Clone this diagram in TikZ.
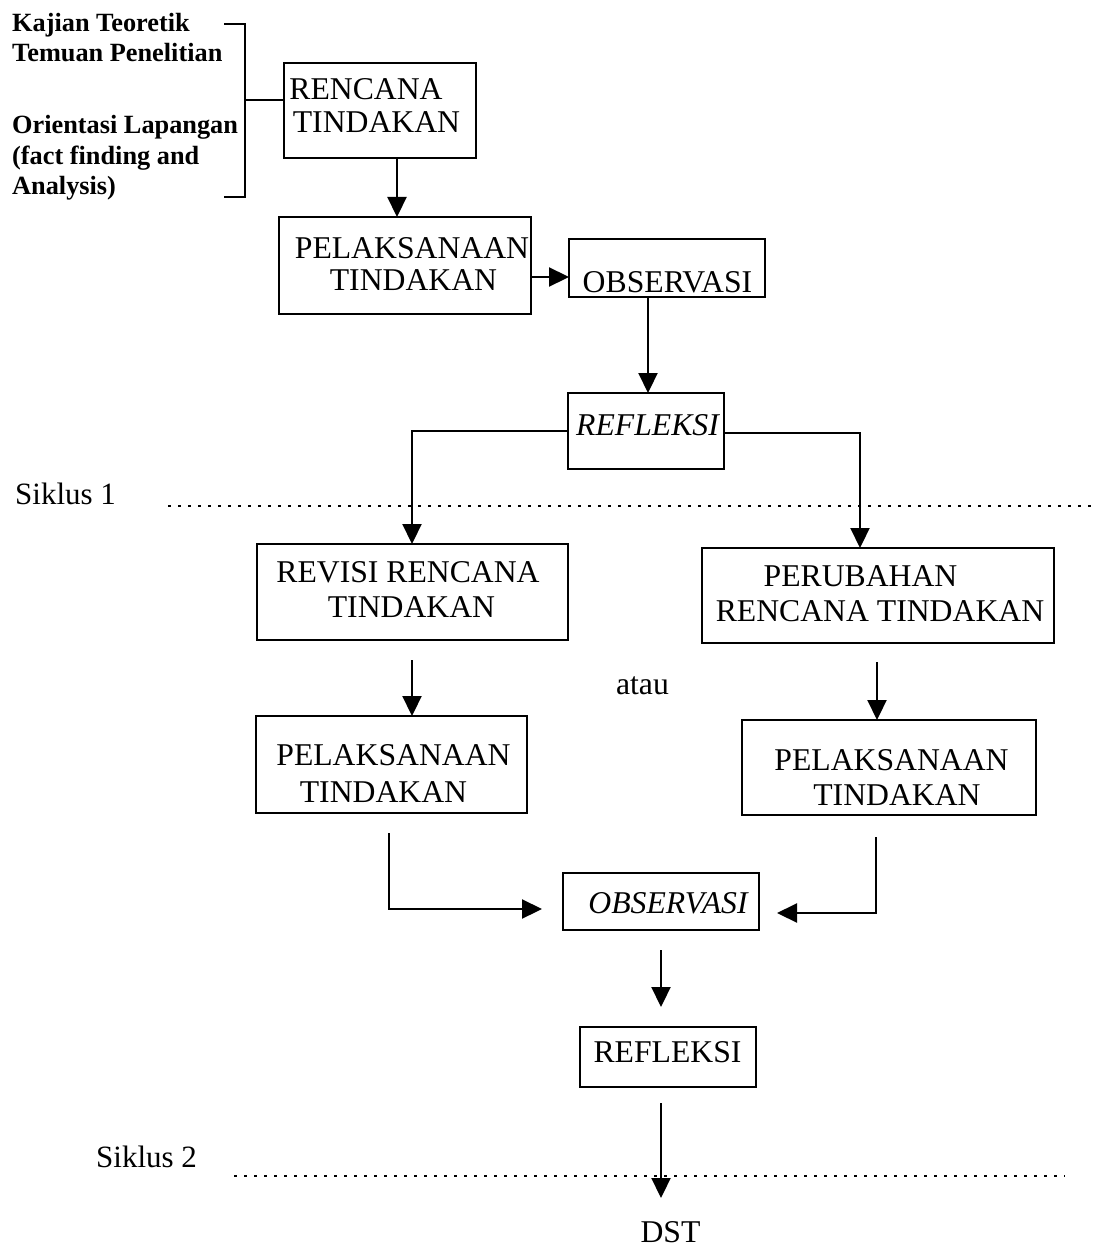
\documentclass[tikz,border=0pt]{standalone}
\usepackage{fontspec}
\setmainfont{Liberation Serif}
\usetikzlibrary{arrows.meta,calc}
\begin{document}
\begin{tikzpicture}[x=1pt,y=-1pt,
  box/.style={draw,line width=2.4pt,inner sep=0pt,outer sep=0pt},
  txt/.style={inner sep=0pt,anchor=base,font=\fontsize{31.7}{37}\selectfont},
  itxt/.style={txt,font=\fontsize{31.7}{37}\selectfont\itshape},
  lbl/.style={inner sep=0pt,anchor=base west,font=\fontsize{26.3}{30}\selectfont\bfseries},
  side/.style={inner sep=0pt,anchor=base west,font=\fontsize{31}{37}\selectfont},
  conn/.style={line width=2.2pt},
  arr/.style={conn,-{Triangle[length=20pt,width=19pt]}},
  dots/.style={line width=2pt,dash pattern=on 2.5pt off 7.5pt}]
\useasboundingbox (0,0) rectangle (1095,1252);

% boxes
\node[box,minimum width=192pt,minimum height=95pt] (ren) at (380,110.5) {};
\node[box,minimum width=252pt,minimum height=97pt] (pel1) at (405,265.5) {};
\node[box,minimum width=196pt,minimum height=58pt] (obs1) at (667,268) {};
\node[box,minimum width=156pt,minimum height=76pt] (ref1) at (646,431) {};
\node[box,minimum width=311pt,minimum height=96pt] (rev) at (412.5,592) {};
\node[box,minimum width=352pt,minimum height=95pt] (per) at (878,595.5) {};
\node[box,minimum width=271pt,minimum height=97pt] (pel2) at (391.5,764.5) {};
\node[box,minimum width=294pt,minimum height=95pt] (pel3) at (889,767.5) {};
\node[box,minimum width=196pt,minimum height=57pt] (obs2) at (661,901.5) {};
\node[box,minimum width=176pt,minimum height=60pt] (ref2) at (668,1057) {};

% box texts
\node[txt] (renA) at (366,100) {RENCANA};
\node[txt] (renB) at (376.5,133) {TINDAKAN};
\node[txt] (pel1A) at (412,258) {PELAKSANAAN};
\node[txt] (pel1B) at (413.5,290) {TINDAKAN};
\node[txt] (obs1A) at (667.5,292) {OBSERVASI};
\node[itxt] (ref1A) at (647.5,435) {REFLEKSI};
\node[txt] (revA) at (408,582) {REVISI RENCANA};
\node[txt] (revB) at (411.5,617) {TINDAKAN};
\node[txt] (perA) at (860.5,586) {PERUBAHAN};
\node[txt] (perB) at (880,621) {RENCANA TINDAKAN};
\node[txt] (pel2A) at (393.5,765) {PELAKSANAAN};
\node[txt] (pel2B) at (383.5,802) {TINDAKAN};
\node[txt] (pel3A) at (891.5,770) {PELAKSANAAN};
\node[txt] (pel3B) at (897,805) {TINDAKAN};
\node[itxt] (obs2A) at (668,913) {OBSERVASI};
\node[txt] (ref2A) at (667.5,1062) {REFLEKSI};
\node[txt] (atau) at (642.5,694) {atau};
\node[txt] (dst) at (670.5,1242) {DST};

% side labels
\node[lbl] (k1) at (12,32) {Kajian Teoretik};
\node[lbl] (k2) at (12,62) {Temuan Penelitian};
\node[lbl] (k3) at (12,134) {Orientasi Lapangan};
\node[lbl] (k4) at (12,165) {(fact finding and};
\node[lbl] (k5) at (12,195) {Analysis)};
\node[side] (s1) at (15,504) {Siklus 1};
\node[side] (s2) at (96,1167) {Siklus 2};

% bracket
\coordinate (bt1) at (224,24);
\coordinate (bt2) at (245,24);
\coordinate (bb2) at (245,197);
\coordinate (bb1) at (224,197);
\coordinate (bm) at (245,100);
\draw[conn] (bt1) -- (bt2) -- (bb2) -- (bb1);
\draw[conn] (bm) -- (bm -| ren.west);

% dotted cycle lines
\coordinate (s1a) at (168,506);
\coordinate (s1b) at (1095,506);
\coordinate (s2a) at (234,1176);
\coordinate (s2b) at (1065,1176);
\draw[dots] (s1a) -- (s1b);
\draw[dots] (s2a) -- (s2b);

% connectors
\coordinate (dstin) at (661,1198);
\draw[arr] ([xshift=17pt]ren.south) -- ([xshift=17pt]ren.south |- pel1.north);
\draw[arr] ([yshift=-11.5pt]pel1.east) -- ([yshift=-11.5pt]pel1.east -| obs1.west);
\draw[arr] ([xshift=-19pt]obs1.south) -- ([xshift=-19pt]obs1.south |- ref1.north);
\draw[arr] (ref1.west) -| ([xshift=-0.5pt]rev.north);
\draw[arr] ([yshift=-2pt]ref1.east) -| ([xshift=-18pt]per.north);
\draw[arr,shorten <=20pt] ([xshift=-0.5pt]rev.south) -- ([xshift=-0.5pt]rev.south |- pel2.north);
\draw[arr,shorten <=19pt] ([xshift=-1pt]per.south) -- ([xshift=-1pt]per.south |- pel3.north);
\draw[arr,shorten <=20pt,shorten >=21pt] ([xshift=-2.5pt]pel2.south) |- ([yshift=-7.5pt]obs2.west);
\draw[arr,shorten <=22pt,shorten >=18pt] ([xshift=-13pt]pel3.south) |- ([yshift=-11.5pt]obs2.east);
\draw[arr,shorten <=20pt,shorten >=20pt] (obs2.south) -- (obs2.south |- ref2.north);
\draw[arr,shorten <=16pt] ([xshift=-7pt]ref2.south) -- (dstin);
\end{tikzpicture}
\end{document}
